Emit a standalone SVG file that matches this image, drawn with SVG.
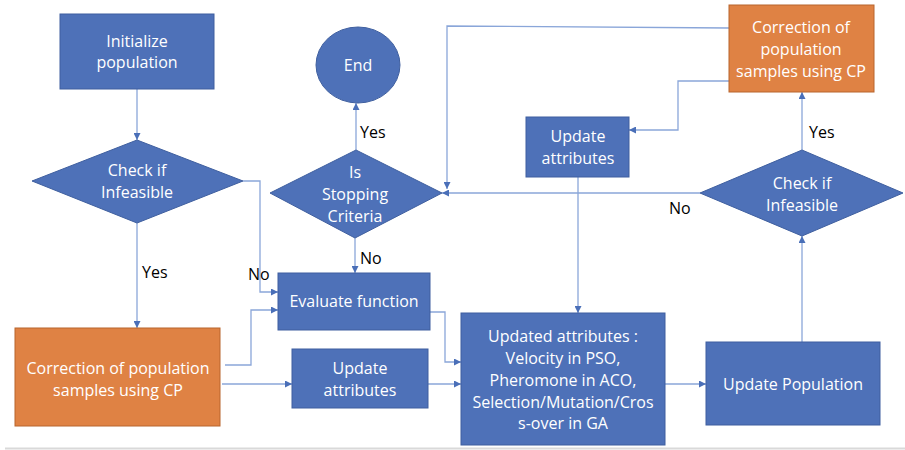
<svg xmlns="http://www.w3.org/2000/svg" width="905" height="450" viewBox="0 0 905 450">
<style>
.b{fill:#4e71b8;stroke:#3f5f9f;stroke-width:1}
.o{fill:#df8244;stroke:#b8652c;stroke-width:1}
.t{font-family:"Open Sans","Noto Sans",sans-serif;font-size:16px;fill:#fff;text-anchor:middle;dominant-baseline:central}
.l{font-family:"Open Sans","Noto Sans",sans-serif;font-size:16px;fill:#000;dominant-baseline:central}
.c{fill:none;stroke:#8aa6d9;stroke-width:1.3}
</style>
<defs>
<marker id="a" markerWidth="7" markerHeight="7" refX="7" refY="3.5" orient="auto" markerUnits="userSpaceOnUse">
<path d="M0,0 L7,3.5 L0,7 z" fill="#4a6fb8"/>
</marker>
</defs>
<rect width="905" height="450" fill="#fff"/>
<line x1="5" y1="448.5" x2="905" y2="448.5" stroke="#d9d9d9" stroke-width="2"/>
<g id="connectors">
<path class="c" d="M137 89 V140" marker-end="url(#a)"/>
<path class="c" d="M243 181 H260 V292 H278" marker-end="url(#a)"/>
<path class="c" d="M137 223 V328" marker-end="url(#a)"/>
<path class="c" d="M225 365 H251 V310 H278" marker-end="url(#a)"/>
<path class="c" d="M222 384 H292" marker-end="url(#a)"/>
<path class="c" d="M355 238 V273" marker-end="url(#a)"/>
<path class="c" d="M356 150 V103" marker-end="url(#a)"/>
<path class="c" d="M430 312 H445 V362 H461" marker-end="url(#a)"/>
<path class="c" d="M428 384 H461" marker-end="url(#a)"/>
<path class="c" d="M665 384 H706" marker-end="url(#a)"/>
<path class="c" d="M802 342 V236" marker-end="url(#a)"/>
<path class="c" d="M802 150 V92" marker-end="url(#a)"/>
<path class="c" d="M729 81 H678 V130 H629" marker-end="url(#a)"/>
<path class="c" d="M578 177 V313" marker-end="url(#a)"/>
<path class="c" d="M700 193 H442" marker-end="url(#a)"/>
<path class="c" d="M729 28 L447 26 V189" marker-end="url(#a)"/>
<text class="l" x="142" y="272">Yes</text>
<text class="l" x="248" y="274">No</text>
<text class="l" x="360" y="132">Yes</text>
<text class="l" x="360" y="258">No</text>
<text class="l" x="669" y="208">No</text>
<text class="l" x="809" y="132">Yes</text>
</g>
<g id="init">
<rect class="b" x="60" y="14" width="154" height="75"/>
<text class="t" x="137" y="41">Initialize</text>
<text class="t" x="137" y="62">population</text>
</g>
<g id="check1">
<polygon class="b" points="137,140 243,181 137,223 32,181"/>
<text class="t" x="137" y="170">Check if</text>
<text class="t" x="137" y="192">Infeasible</text>
</g>
<g id="correction1">
<rect class="o" x="15" y="328" width="205" height="98"/>
<text class="t" x="118" y="368">Correction of population</text>
<text class="t" x="118" y="390">samples using CP</text>
</g>
<g id="evaluate">
<rect class="b" x="278" y="273" width="152" height="57"/>
<text class="t" x="354" y="301">Evaluate function</text>
</g>
<g id="update-attr-bottom">
<rect class="b" x="292" y="349" width="136" height="59"/>
<text class="t" x="360" y="368">Update</text>
<text class="t" x="360" y="390">attributes</text>
</g>
<g id="stopping">
<polygon class="b" points="356,150 442,193 355,238 270,193"/>
<text class="t" x="355" y="172">Is</text>
<text class="t" x="355" y="194">Stopping</text>
<text class="t" x="355" y="216">Criteria</text>
</g>
<g id="end">
<ellipse class="b" cx="358" cy="65" rx="42" ry="38"/>
<text class="t" x="358" y="65">End</text>
</g>
<g id="updated-attributes">
<rect class="b" x="461" y="313" width="204" height="132"/>
<text class="t" x="563" y="336">Updated attributes :</text>
<text class="t" x="563" y="358">Velocity in PSO,</text>
<text class="t" x="563" y="380">Pheromone in ACO,</text>
<text class="t" x="563" y="402">Selection/Mutation/Cros</text>
<text class="t" x="563" y="423">s-over in GA</text>
</g>
<g id="update-population">
<rect class="b" x="706" y="342" width="174" height="83"/>
<text class="t" x="793" y="384">Update Population</text>
</g>
<g id="check2">
<polygon class="b" points="802,150 903,193 802,236 700,193"/>
<text class="t" x="802" y="183">Check if</text>
<text class="t" x="802" y="205">Infeasible</text>
</g>
<g id="correction2">
<rect class="o" x="729" y="5" width="145" height="87"/>
<text class="t" x="801" y="27">Correction of</text>
<text class="t" x="801" y="49">population</text>
<text class="t" x="801" y="71">samples using CP</text>
</g>
<g id="update-attr-top">
<rect class="b" x="526" y="117" width="103" height="60"/>
<text class="t" x="578" y="136">Update</text>
<text class="t" x="578" y="158">attributes</text>
</g>
</svg>
